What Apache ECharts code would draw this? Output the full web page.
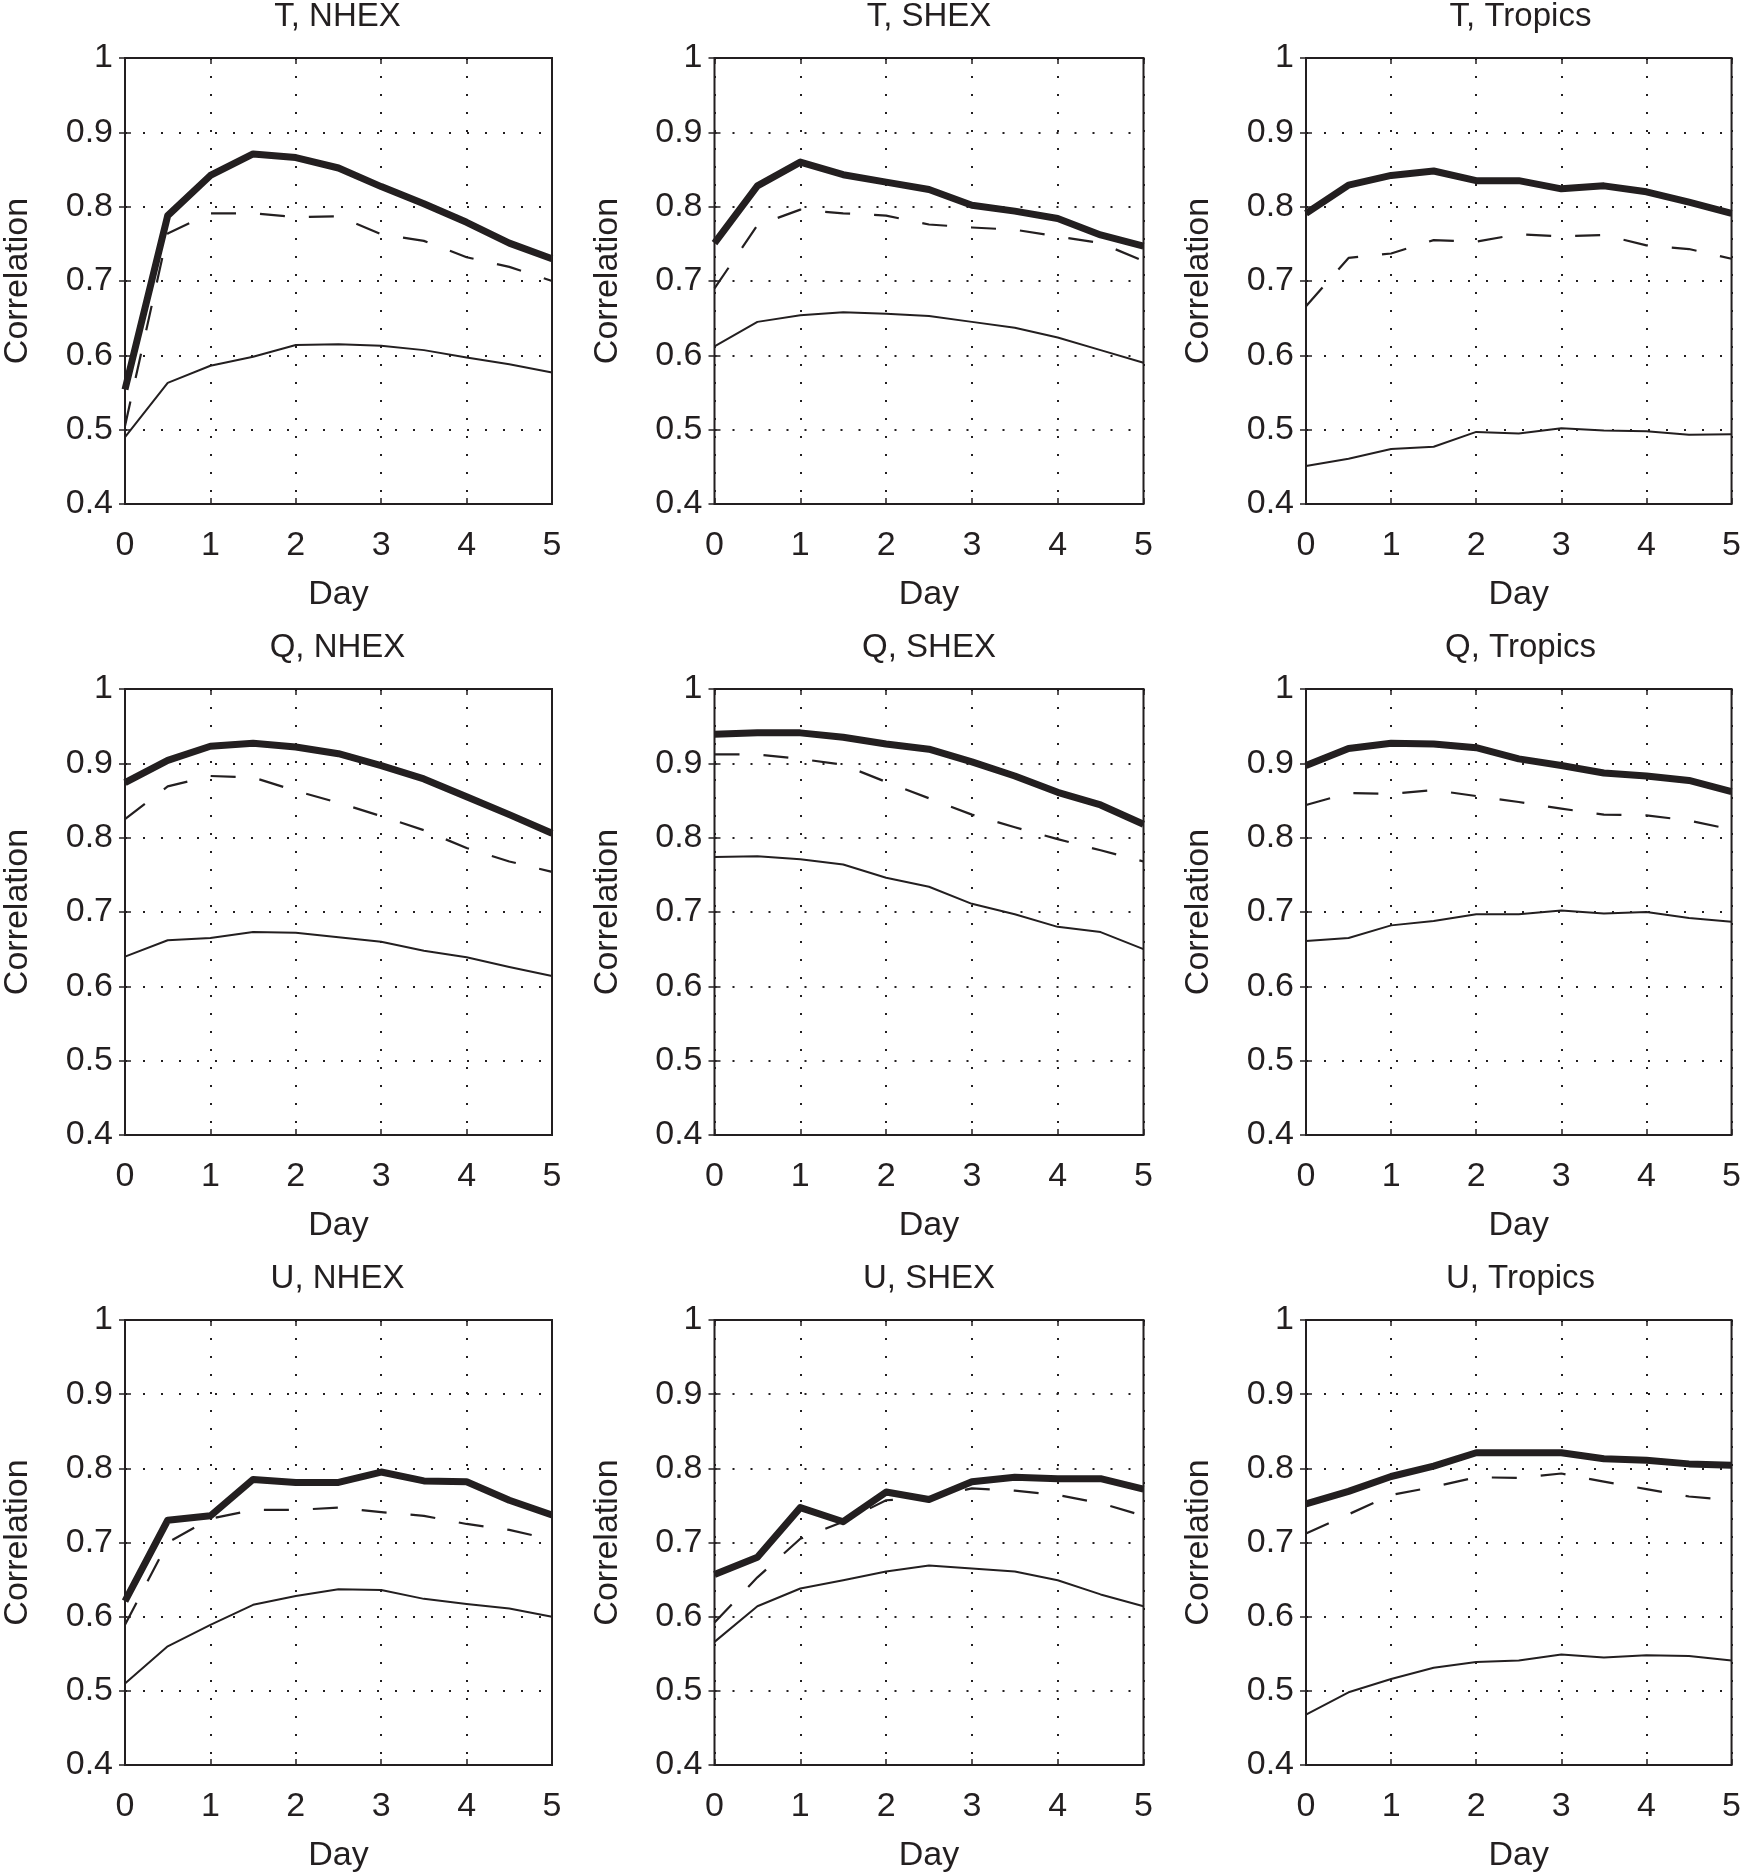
<!DOCTYPE html>
<html>
<head>
<meta charset="utf-8">
<title>Correlation vs Day</title>
<script src="https://cdn.jsdelivr.net/npm/echarts@6/dist/echarts.min.js"></script>
<style>
  html, body { margin: 0; padding: 0; background: #fff; }
  #chart { width: 1744px; height: 1874px; }
</style>
</head>
<body>
<div id="chart"></div>
<script>
// forecast day (x axis)
var days = [0, 0.5, 1, 1.5, 2, 2.5, 3, 3.5, 4, 4.5, 5];

var titles = ['T, NHEX', 'T, SHEX', 'T, Tropics',
              'Q, NHEX', 'Q, SHEX', 'Q, Tropics',
              'U, NHEX', 'U, SHEX', 'U, Tropics'];

// T
var tNhexThick  = [0.554, 0.788, 0.842, 0.871, 0.866, 0.852, 0.827, 0.804, 0.779, 0.751, 0.730];
var tNhexDashed = [0.505, 0.764, 0.791, 0.791, 0.786, 0.787, 0.763, 0.754, 0.732, 0.719, 0.700];
var tNhexThin   = [0.490, 0.563, 0.586, 0.598, 0.614, 0.615, 0.613, 0.607, 0.597, 0.588, 0.577];

var tShexThick  = [0.751, 0.828, 0.860, 0.843, 0.833, 0.823, 0.802, 0.794, 0.784, 0.762, 0.747];
var tShexDashed = [0.690, 0.775, 0.796, 0.791, 0.788, 0.776, 0.772, 0.769, 0.760, 0.751, 0.727];
var tShexThin   = [0.612, 0.645, 0.654, 0.658, 0.656, 0.653, 0.645, 0.637, 0.624, 0.607, 0.590];

var tTropThick  = [0.791, 0.829, 0.842, 0.848, 0.835, 0.835, 0.824, 0.828, 0.820, 0.806, 0.791];
var tTropDashed = [0.666, 0.731, 0.737, 0.755, 0.753, 0.763, 0.760, 0.762, 0.748, 0.743, 0.730];
var tTropThin   = [0.451, 0.461, 0.474, 0.477, 0.497, 0.495, 0.502, 0.499, 0.498, 0.493, 0.494];

// Q
var qNhexThick  = [0.874, 0.904, 0.923, 0.927, 0.922, 0.913, 0.897, 0.879, 0.855, 0.831, 0.806];
var qNhexDashed = [0.825, 0.869, 0.883, 0.881, 0.863, 0.847, 0.829, 0.810, 0.786, 0.768, 0.754];
var qNhexThin   = [0.640, 0.662, 0.665, 0.673, 0.672, 0.666, 0.660, 0.648, 0.639, 0.626, 0.614];

var qShexThick  = [0.939, 0.941, 0.941, 0.935, 0.926, 0.919, 0.902, 0.883, 0.861, 0.844, 0.818];
var qShexDashed = [0.912, 0.912, 0.906, 0.898, 0.875, 0.853, 0.831, 0.814, 0.798, 0.783, 0.768];
var qShexThin   = [0.774, 0.775, 0.771, 0.764, 0.746, 0.734, 0.711, 0.697, 0.680, 0.673, 0.650];

var qTropThick  = [0.897, 0.920, 0.927, 0.926, 0.921, 0.906, 0.897, 0.887, 0.883, 0.877, 0.862];
var qTropDashed = [0.844, 0.860, 0.859, 0.864, 0.856, 0.848, 0.839, 0.831, 0.830, 0.823, 0.811];
var qTropThin   = [0.661, 0.665, 0.682, 0.688, 0.697, 0.697, 0.702, 0.698, 0.700, 0.692, 0.687];

// U
var uNhexThick  = [0.621, 0.730, 0.736, 0.785, 0.781, 0.781, 0.795, 0.783, 0.782, 0.757, 0.737];
var uNhexDashed = [0.589, 0.700, 0.732, 0.744, 0.744, 0.747, 0.741, 0.736, 0.725, 0.717, 0.704];
var uNhexThin   = [0.510, 0.560, 0.589, 0.616, 0.628, 0.637, 0.636, 0.624, 0.617, 0.611, 0.600];

var uShexThick  = [0.657, 0.680, 0.747, 0.728, 0.768, 0.758, 0.782, 0.788, 0.786, 0.786, 0.772];
var uShexDashed = [0.592, 0.653, 0.705, 0.728, 0.757, 0.760, 0.773, 0.770, 0.764, 0.753, 0.736];
var uShexThin   = [0.566, 0.614, 0.638, 0.649, 0.661, 0.669, 0.665, 0.661, 0.649, 0.630, 0.614];

var uTropThick  = [0.752, 0.769, 0.789, 0.803, 0.821, 0.821, 0.821, 0.813, 0.811, 0.806, 0.804];
var uTropDashed = [0.712, 0.738, 0.764, 0.775, 0.788, 0.787, 0.793, 0.782, 0.772, 0.762, 0.757];
var uTropThin   = [0.468, 0.498, 0.516, 0.531, 0.539, 0.541, 0.549, 0.545, 0.548, 0.547, 0.541];

var panels = [
    [tNhexThick, tNhexDashed, tNhexThin],
    [tShexThick, tShexDashed, tShexThin],
    [tTropThick, tTropDashed, tTropThin],
    [qNhexThick, qNhexDashed, qNhexThin],
    [qShexThick, qShexDashed, qShexThin],
    [qTropThick, qTropDashed, qTropThin],
    [uNhexThick, uNhexDashed, uNhexThin],
    [uShexThick, uShexDashed, uShexThin],
    [uTropThick, uTropDashed, uTropThin]
];

var INK = '#231f20';
var FONT = '"Liberation Sans", Arial, Helvetica, sans-serif';
var colLeft = [123, 714.5, 1306];
var rowTop = [58, 689, 1320];
var plotW = 429, plotH = 446;

var grids = [], xAxes = [], yAxes = [], series = [], title = [];

function pairs(arr) {
    return days.map(function (d, i) { return [d, arr[i]]; });
}

var tick = { show: true, inside: true, length: 6, lineStyle: { color: INK, width: 1.5 } };
var dots = { show: true, lineStyle: { color: INK, width: 2, type: [2, 16] } };

for (var p = 0; p < 9; p++) {
    var r = Math.floor(p / 3), c = p % 3;
    grids.push({
        left: colLeft[c], top: rowTop[r], width: plotW, height: plotH,
        show: true, borderColor: INK, borderWidth: 2, backgroundColor: '#fff'
    });
    title.push({
        text: titles[p],
        left: colLeft[c] + plotW / 2,
        top: rowTop[r] - 58,
        textAlign: 'center',
        padding: 0,
        textStyle: { fontFamily: FONT, fontSize: 33, fontWeight: 'normal', color: INK }
    });

    // main x axis
    xAxes.push({
        gridIndex: p, type: 'value', min: 0, max: 5, interval: 1,
        name: 'Day', nameLocation: 'middle', nameGap: 74,
        nameTextStyle: { fontFamily: FONT, fontSize: 34, color: INK },
        axisLine: { show: false },
        axisTick: tick,
        axisLabel: { margin: 25, fontFamily: FONT, fontSize: 34, color: INK,
            formatter: function (v) { return String(Math.round(v)); } },
        splitLine: dots
    });
    // mirrored top axis, ticks only
    xAxes.push({
        gridIndex: p, type: 'value', min: 0, max: 5, interval: 1, position: 'top',
        axisLine: { show: false }, axisTick: tick,
        axisLabel: { show: false }, splitLine: { show: false }
    });
    yAxes.push({
        gridIndex: p, type: 'value', min: 0.4, max: 1, interval: 0.1,
        name: 'Correlation', nameLocation: 'middle', nameGap: 90, nameRotate: 90,
        nameTextStyle: { fontFamily: FONT, fontSize: 34, color: INK },
        axisLine: { show: false },
        axisTick: tick,
        axisLabel: { margin: 12, fontFamily: FONT, fontSize: 34, color: INK,
            formatter: function (v) {
                var s = v.toFixed(1);
                return s === '1.0' ? '1' : s;
            } },
        splitLine: dots
    });
    yAxes.push({
        gridIndex: p, type: 'value', min: 0.4, max: 1, interval: 0.1, position: 'right',
        axisLine: { show: false }, axisTick: tick,
        axisLabel: { show: false }, splitLine: { show: false }
    });

    var styles = [
        { width: 7, type: 'solid' },
        { width: 2.2, type: [25, 24] },
        { width: 2, type: 'solid' }
    ];
    // thin first, thick on top
    for (var k = 2; k >= 0; k--) {
        series.push({
            type: 'line',
            xAxisIndex: p * 2, yAxisIndex: p * 2,
            data: pairs(panels[p][k]),
            symbol: 'none', silent: true,
            lineStyle: { color: INK, width: styles[k].width, type: styles[k].type,
                cap: 'butt', join: 'round' },
            z: 3 + (2 - k)
        });
    }
}

var chart = echarts.init(document.getElementById('chart'), null, { renderer: 'canvas' });
chart.setOption({
    animation: false,
    backgroundColor: '#fff',
    textStyle: { fontFamily: FONT },
    title: title,
    grid: grids,
    xAxis: xAxes,
    yAxis: yAxes,
    series: series
});
</script>
</body>
</html>
